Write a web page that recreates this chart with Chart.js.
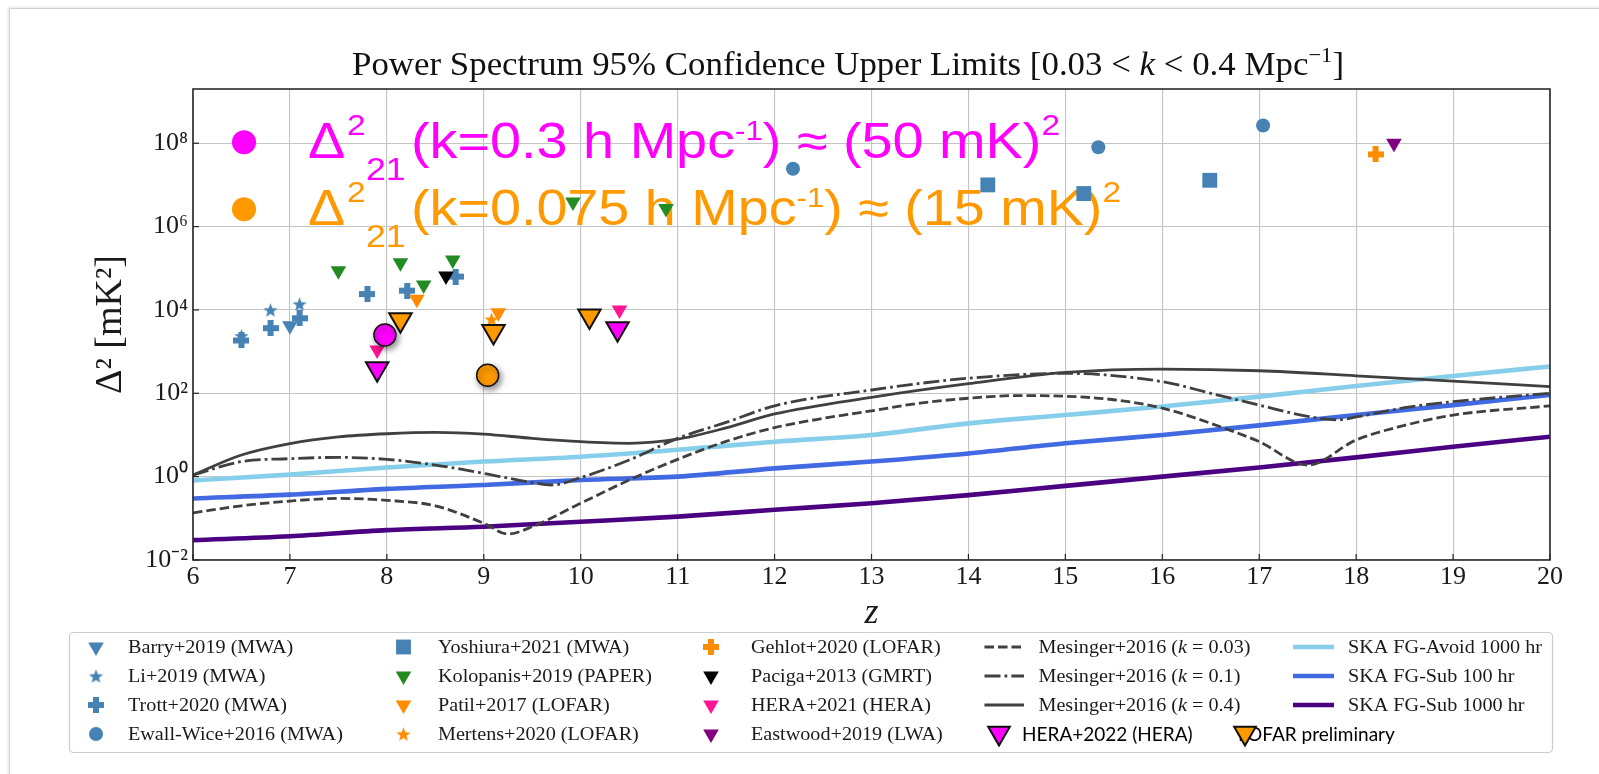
<!DOCTYPE html>
<html><head><meta charset="utf-8">
<script src="https://cdn.jsdelivr.net/npm/chart.js@4.4.1/dist/chart.umd.min.js"></script>
<style>
html,body{margin:0;padding:0;background:#fff;width:1599px;height:774px;overflow:hidden;}
#frame{position:absolute;left:9px;top:8px;width:1600px;height:780px;border-top:1px solid #d2d2d2;border-left:1px solid #d2d2d2;box-shadow:-1px -1px 3px rgba(0,0,0,0.10);}
#wrap{position:absolute;left:0;top:0;width:1599px;height:774px;}
</style></head><body>
<div id="frame"></div>
<div id="wrap"><canvas id="c" width="1599" height="774"></canvas></div>
<script>
// ---------------- data ----------------
const barryZ = [7.0],                       barryV = [4150];
const liZ = [6.5, 6.8, 7.1],                liV = [2400, 10000, 13900];
const trottZ = [6.5, 6.8, 7.1, 7.8, 8.21, 8.71], trottV = [1850, 3650, 6300, 24000, 29000, 63000];
const ewallZ = [12.19, 15.34, 17.04],       ewallV = [2.45e7, 8.0e7, 2.66e8];
const yoshiuraZ = [14.2, 15.19, 16.49],     yoshiuraV = [1.0e7, 6.2e6, 1.29e7];
const kolopanisZ = [7.5, 8.14, 8.38, 8.68, 9.92, 10.88], kolopanisV = [87000, 135000, 39600, 158000, 3.9e6, 2.7e6];
const patilZ = [8.31, 9.15],                patilV = [18000, 8600];
const mertensZ = [9.08],                    mertensV = [6000];
const gehlotZ = [18.2],                     gehlotV = [5.4e7];
const pacigaZ = [8.61],                     pacigaV = [65000];
const hera21Z = [7.9, 10.4],                hera21V = [1100, 10000];
const eastwoodZ = [18.39],                  eastwoodV = [1.0e8];
const hera22Z = [7.9, 10.38],               hera22V = [390, 3530];
const lofarPreZ = [8.14, 9.1, 10.09],       lofarPreV = [5800, 3020, 7200];
const target03Z = [7.98],                   target03V = [2500];
const target0075Z = [9.04],                 target0075V = [270];

const mes003Z = [6, 6.5, 7, 7.5, 8, 8.5, 9, 9.25, 9.5, 10, 10.5, 11, 11.5, 12, 12.5, 13, 13.5, 14, 14.5, 15, 15.5, 16, 16.5, 17, 17.5, 18, 18.5, 19, 20];
const mes003V = [0.135, 0.2, 0.26, 0.3, 0.27, 0.2, 0.076, 0.042, 0.063, 0.23, 0.83, 2.6, 7, 15, 25, 38, 58, 76, 88, 85, 70, 44, 19, 6.9, 1.9, 7.6, 17, 30, 50];
const mes01Z = [6, 6.5, 7, 7.5, 8, 8.5, 9, 9.5, 9.7, 10, 10.5, 11, 11.5, 12, 13, 14, 15, 16, 16.5, 17, 17.5, 17.8, 18, 18.5, 19, 20];
const mes01V = [1.1, 2.3, 2.7, 2.9, 2.6, 1.9, 1.2, 0.72, 0.63, 0.95, 2.5, 8.3, 20, 50, 120, 230, 300, 190, 100, 52, 28, 23, 27, 45, 63, 100];
const mes04Z = [6, 6.5, 7, 7.5, 8, 8.5, 9, 9.5, 10, 10.5, 11, 11.5, 12, 13, 14, 15, 16, 17, 18, 19, 20];
const mes04V = [1.1, 3.3, 6.2, 9.0, 10.7, 11.5, 10.5, 8.3, 6.9, 6.3, 7.9, 14.8, 32, 80, 170, 316, 380, 347, 263, 195, 145];
const skaZ = [6, 7, 8, 9, 10, 11, 12, 13, 14, 15, 16, 17, 18, 19, 20];
const skaAvoid1000V = [0.81, 1.12, 1.66, 2.3, 3.0, 4.4, 6.9, 10, 19, 30, 48, 83, 150, 260, 440];
const skaSub100V    = [0.3, 0.37, 0.51, 0.63, 0.83, 1.0, 1.58, 2.3, 3.6, 6.3, 10, 17, 30, 52, 91];
const skaSub1000V   = [0.03, 0.037, 0.052, 0.063, 0.083, 0.11, 0.16, 0.23, 0.36, 0.6, 1.0, 1.66, 2.9, 5.2, 9.1];

const xTicks = [6, 7, 8, 9, 10, 11, 12, 13, 14, 15, 16, 17, 18, 19, 20];
const yTicks = [1e-2, 1e0, 1e2, 1e4, 1e6, 1e8];

const titleText = ['Power Spectrum 95% Confidence Upper Limits [0.03 < ', 'k', ' < 0.4 Mpc', '−1', ']'];
const yTitle = 'Δ² [mK²]';
const xTitle = 'z';
const annot1 = {main: '(k=0.3 h Mpc', tail: ') ≈ (50 mK)'};
const annot2 = {main: '(k=0.075 h Mpc', tail: ') ≈ (15 mK)'};

// ---------------- helpers ----------------
const pts = (zs, vs) => zs.map((z, i) => ({x: z, y: vs[i]}));
function starImg(color, size) {
  const c = document.createElement('canvas'); c.width = c.height = size;
  const g = c.getContext('2d'); const R = size / 2, r = R * 0.42;
  g.translate(R, R * 1.1); g.beginPath();
  for (let i = 0; i < 10; i++) { const a = -Math.PI / 2 + i * Math.PI / 5; const rr = i % 2 ? r : R; g.lineTo(Math.cos(a) * rr, Math.sin(a) * rr); }
  g.closePath(); g.fillStyle = color; g.fill(); return c;
}
function plusImg(color, size, t) {
  const c = document.createElement('canvas'); c.width = c.height = size;
  const g = c.getContext('2d'); g.fillStyle = color; const m = (size - t) / 2;
  g.fillRect(m, 0, t, size); g.fillRect(0, m, size, t); return c;
}
const SB = '#4682b4', GR = '#228b22', DO = '#ff8c00', DP = '#ff1493', PU = '#800080', MG = '#ff00ff', OR = '#ff9900', MES = '#404040';
const sup = {'-': '⁻', '0': '⁰', '1': '¹', '2': '²', '3': '³', '4': '⁴', '5': '⁵', '6': '⁶', '7': '⁷', '8': '⁸', '9': '⁹'};
const expLabel = v => '10' + String(Math.round(Math.log10(v))).split('').map(c => sup[c]).join('');

function tri(label, zs, vs, color, leg, extra) {
  return Object.assign({label, data: pts(zs, vs), pointStyle: 'triangle', pointRotation: 180, pointRadius: 9,
    backgroundColor: color, borderColor: color, borderWidth: 0, order: 5, leg}, extra || {});
}
function line(label, zs, vs, color, width, dash, leg) {
  return {label, data: pts(zs, vs), showLine: true, pointRadius: 0, borderColor: color, backgroundColor: color,
    borderWidth: width, borderDash: dash, cubicInterpolationMode: 'monotone', fill: false, order: 10, leg, isLine: true};
}

const datasets = [
  tri('Barry+2019 (MWA)', barryZ, barryV, SB, [0, 0]),
  {label: 'Li+2019 (MWA)', data: pts(liZ, liV), pointStyle: starImg(SB, 15), backgroundColor: SB, order: 5, leg: [0, 1]},
  {label: 'Trott+2020 (MWA)', data: pts(trottZ, trottV), pointStyle: plusImg(SB, 16, 6), backgroundColor: SB, order: 6, leg: [0, 2]},
  {label: 'Ewall-Wice+2016 (MWA)', data: pts(ewallZ, ewallV), pointStyle: 'circle', pointRadius: 7, backgroundColor: SB, borderWidth: 0, order: 5, leg: [0, 3]},
  {label: 'Yoshiura+2021 (MWA)', data: pts(yoshiuraZ, yoshiuraV), pointStyle: 'rect', pointRadius: 10.5, backgroundColor: SB, borderWidth: 0, order: 5, leg: [1, 0]},
  tri('Kolopanis+2019 (PAPER)', kolopanisZ, kolopanisV, GR, [1, 1]),
  tri('Patil+2017 (LOFAR)', patilZ, patilV, DO, [1, 2]),
  {label: 'Mertens+2020 (LOFAR)', data: pts(mertensZ, mertensV), pointStyle: starImg(DO, 15), backgroundColor: DO, order: 5, leg: [1, 3]},
  {label: 'Gehlot+2020 (LOFAR)', data: pts(gehlotZ, gehlotV), pointStyle: plusImg(DO, 16, 6), backgroundColor: DO, order: 5, leg: [2, 0]},
  tri('Paciga+2013 (GMRT)', pacigaZ, pacigaV, '#000000', [2, 1], {order: 4}),
  tri('HERA+2021 (HERA)', hera21Z, hera21V, DP, [2, 2]),
  tri('Eastwood+2019 (LWA)', eastwoodZ, eastwoodV, PU, [2, 3]),
  line('Mesinger+2016 (|k| = 0.03)', mes003Z, mes003V, MES, 2.8, [9.5, 4], [3, 0]),
  line('Mesinger+2016 (|k| = 0.1)', mes01Z, mes01V, MES, 2.8, [16, 4, 2.8, 4], [3, 1]),
  line('Mesinger+2016 (|k| = 0.4)', mes04Z, mes04V, MES, 2.8, [], [3, 2]),
  tri('HERA+2022 (HERA)', hera22Z, hera22V, MG, [3, 3], {pointRadius: 13, borderColor: '#111', borderWidth: 2, order: 2, sans: true}),
  line('SKA FG-Avoid 1000 hr', skaZ, skaAvoid1000V, '#87ceeb', 4.6, [], [4, 0]),
  line('SKA FG-Sub 100 hr', skaZ, skaSub100V, '#4169e1', 4.6, [], [4, 1]),
  line('SKA FG-Sub 1000 hr', skaZ, skaSub1000V, '#4b0082', 4.6, [], [4, 2]),
  tri('LOFAR preliminary', lofarPreZ, lofarPreV, OR, [4, 3], {pointRadius: 13, borderColor: '#111', borderWidth: 2, order: 2, sans: true}),
  {label: 'target 0.3', data: pts(target03Z, target03V), pointStyle: 'circle', pointRadius: 11, backgroundColor: MG, borderColor: '#111', borderWidth: 1.5, order: 0, shadow: true},
  {label: 'target 0.075', data: pts(target0075Z, target0075V), pointStyle: 'circle', pointRadius: 11, backgroundColor: OR, borderColor: '#111', borderWidth: 1.5, order: 0, shadow: true}
];

// ---------------- drawing plugin ----------------
const SERIF = '"Liberation Serif", "Times New Roman", serif';
const SANS = '"Liberation Sans", Arial, sans-serif';

function drawSegs(ctx, segs, x, y, sx) {
  ctx.save(); ctx.translate(x, y); ctx.scale(sx, 1); ctx.textBaseline = 'alphabetic'; ctx.textAlign = 'left';
  let cx = 0;
  for (const s of segs) { ctx.font = s.f; ctx.fillText(s.t, cx, s.dy || 0); cx += ctx.measureText(s.t).width; }
  ctx.restore();
}
function segsWidth(ctx, segs) { let w = 0; for (const s of segs) { ctx.font = s.f; w += ctx.measureText(s.t).width; } return w; }
function labelSegs(label, size) {
  return label.split('|').map((t, i) => ({t, f: (i % 2 ? 'italic ' : '') + size + 'px ' + SERIF}));
}
function drawAnnot(ctx, color, baseY, a, endX) {
  ctx.save(); ctx.fillStyle = color;
  ctx.beginPath(); ctx.arc(244, baseY - 15.8, 12, 0, Math.PI * 2); ctx.fill();
  const F = n => n + 'px ' + SANS;
  const segs = [{t: a.main, f: F(50)}, {t: '-1', f: F(28), dy: -18}, {t: a.tail, f: F(50)}, {t: '2', f: F(30), dy: -23}];
  const sx = (endX - 411) / segsWidth(ctx, segs);
  drawSegs(ctx, [{t: 'Δ', f: F(50)}], 308, baseY, sx);
  drawSegs(ctx, [{t: '2', f: F(30)}], 347, baseY - 23, sx);
  drawSegs(ctx, [{t: '21', f: F(32)}], 366, baseY + 22, sx);
  drawSegs(ctx, segs, 411, baseY, sx);
  ctx.restore();
}

const deco = {
  id: 'deco',
  beforeDatasetsDraw(chart) {
    const ctx = chart.ctx;
    drawAnnot(ctx, MG, 158, annot1, 1060);
    drawAnnot(ctx, OR, 225, annot2, 1121);
  },
  beforeDatasetDraw(chart, args) {
    const ds = chart.data.datasets[args.index];
    if (ds.shadow) { const c = chart.ctx; c.save(); c.shadowColor = 'rgba(0,0,0,0.45)'; c.shadowBlur = 6; c.shadowOffsetX = 2; c.shadowOffsetY = 3; }
  },
  afterDatasetDraw(chart, args) {
    if (chart.data.datasets[args.index].shadow) chart.ctx.restore();
  },
  afterDraw(chart) {
    const ctx = chart.ctx, a = chart.chartArea, xs = chart.scales.x, ys = chart.scales.y;
    ctx.save();
    // inward ticks
    ctx.strokeStyle = '#222'; ctx.lineWidth = 1.2;
    for (const t of xTicks) { const px = xs.getPixelForValue(t); ctx.beginPath(); ctx.moveTo(px, a.bottom); ctx.lineTo(px, a.bottom - 6); ctx.stroke(); }
    for (const t of yTicks) { const py = ys.getPixelForValue(t); ctx.beginPath(); ctx.moveTo(a.left, py); ctx.lineTo(a.left + 6, py); ctx.stroke(); }
    // frame
    ctx.strokeStyle = '#2a2a2a'; ctx.lineWidth = 1.6;
    ctx.strokeRect(a.left, a.top, a.right - a.left, a.bottom - a.top);
    // title
    ctx.fillStyle = '#111';
    const tf = 34;
    const tsegs = [
      {t: titleText[0], f: tf + 'px ' + SERIF}, {t: titleText[1], f: 'italic ' + tf + 'px ' + SERIF},
      {t: titleText[2], f: tf + 'px ' + SERIF}, {t: titleText[3], f: '22px ' + SERIF, dy: -13}, {t: titleText[4], f: tf + 'px ' + SERIF}];
    drawSegs(ctx, tsegs, 352, 75, (1344 - 352) / segsWidth(ctx, tsegs));
    // legend box
    const L = {x0: 69, y0: 632, x1: 1552, y1: 752};
    ctx.fillStyle = 'rgba(255,255,255,0.85)'; ctx.strokeStyle = '#cccccc'; ctx.lineWidth = 1.2;
    ctx.beginPath(); ctx.roundRect(L.x0 + 0.5, L.y0 + 0.5, L.x1 - L.x0, L.y1 - L.y0, 4); ctx.fill(); ctx.stroke();
    const rows = [647, 676, 705, 734];
    const markX = [96, 403.5, 711];
    const textX = [128, 438, 751, 1038.5, 1348];
    const lineX = {3: [984.5, 1024], 4: [1293, 1334]};
    const sxLeg = 1.12;
    for (const ds of chart.data.datasets) {
      if (!ds.leg) continue;
      const [col, row] = ds.leg; const y = rows[row];
      if (ds.sans) {
        ctx.fillStyle = '#000'; ctx.font = '19px Lato, "Open Sans", sans-serif'; ctx.textBaseline = 'alphabetic';
        const mx = col === 3 ? 999 : 1245, tx = col === 3 ? 1022 : 1238;
        ctx.fillText(ds.label, tx, y + 7);
        ctx.fillStyle = ds.backgroundColor; ctx.strokeStyle = ds.borderColor; ctx.lineWidth = ds.borderWidth;
        Chart.helpers.drawPoint(ctx, {pointStyle: 'triangle', rotation: 180, radius: 12.5, borderWidth: ds.borderWidth}, mx, y - 1);
        continue;
      }
      if (ds.isLine) {
        const [x0, x1] = lineX[col];
        ctx.save(); ctx.strokeStyle = ds.borderColor; ctx.lineWidth = ds.borderWidth; ctx.setLineDash(ds.borderDash || []);
        ctx.beginPath(); ctx.moveTo(x0, y); ctx.lineTo(x1, y); ctx.stroke(); ctx.restore();
      } else {
        ctx.fillStyle = ds.backgroundColor; ctx.strokeStyle = ds.borderColor || ds.backgroundColor;
        Chart.helpers.drawPoint(ctx, {pointStyle: ds.pointStyle, rotation: ds.pointRotation || 0, radius: ds.pointRadius || 8, borderWidth: 0}, markX[col], y);
      }
      ctx.fillStyle = '#1a1a1a';
      drawSegs(ctx, labelSegs(ds.label, 18), textX[col], y + 6, sxLeg);
    }
    ctx.restore();
  }
};

// ---------------- chart ----------------
new Chart(document.getElementById('c'), {
  type: 'scatter',
  data: {datasets},
  options: {
    responsive: false, animation: false, events: [], devicePixelRatio: 1,
    layout: {padding: {left: 0, right: 49, top: 89, bottom: 134}},
    plugins: {legend: {display: false}, tooltip: {enabled: false}, title: {display: false}},
    scales: {
      x: {
        type: 'linear', min: 6, max: 20,
        afterBuildTicks(s) { s.ticks = xTicks.map(v => ({value: v})); },
        ticks: {font: {family: SERIF, size: 26}, color: '#1a1a1a', padding: 2, maxRotation: 0, callback: v => String(v)},
        grid: {color: '#c4c4c4', lineWidth: 1.1, drawTicks: false},
        border: {display: false},
        title: {display: true, text: xTitle, font: {family: SERIF, size: 36, style: 'italic'}, color: '#1a1a1a', padding: {top: 0, bottom: 5}},
        afterFit(s) { s.height = 80; }
      },
      y: {
        type: 'logarithmic', min: 1e-2, max: 2e9,
        afterBuildTicks(s) { s.ticks = yTicks.map(v => ({value: v})); },
        ticks: {font: {family: SERIF, size: 26}, color: '#1a1a1a', padding: 5, callback: v => expLabel(v)},
        grid: {color: '#c4c4c4', lineWidth: 1.1, drawTicks: false},
        border: {display: false},
        title: {display: true, text: yTitle, font: {family: SERIF, size: 38}, color: '#1a1a1a', padding: {top: 88, bottom: 0}},
        afterFit(s) { s.width = 193; }
      }
    }
  },
  plugins: [deco]
});
</script>
</body></html>
